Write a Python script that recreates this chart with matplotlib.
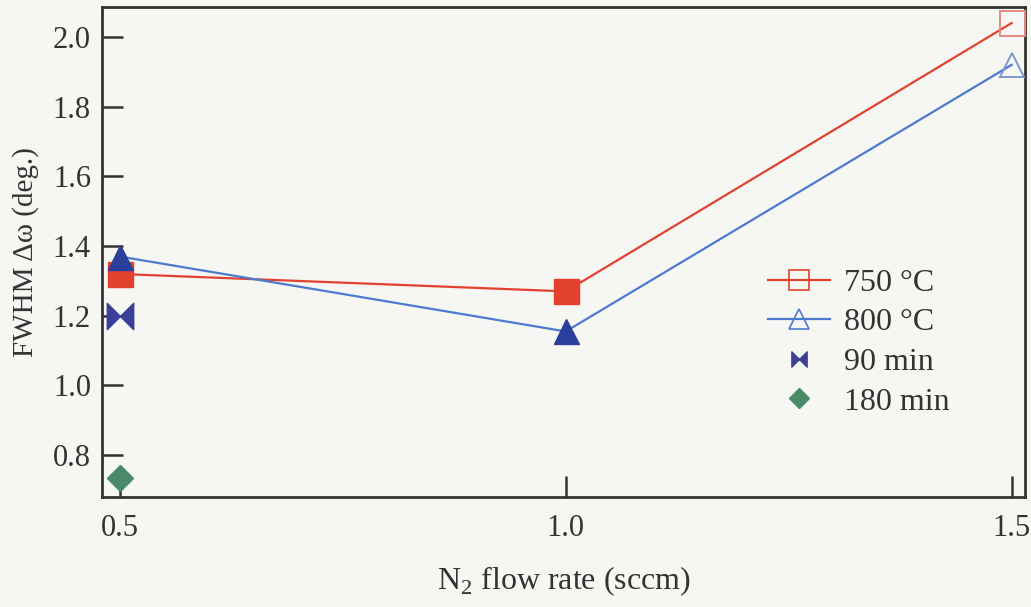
import matplotlib
matplotlib.use("Agg")
import matplotlib.pyplot as plt
from matplotlib.path import Path
from matplotlib.lines import Line2D

plt.rcParams['font.family'] = ['Liberation Serif', 'DejaVu Serif']
plt.rcParams['mathtext.fontset'] = 'custom'
plt.rcParams['mathtext.rm'] = 'Liberation Serif'

# N2 flow rate (sccm) and FWHM (deg.)
flow = [0.5, 1.0, 1.5]
fwhm_750 = [1.32, 1.27, 2.04]
fwhm_800 = [1.37, 1.155, 1.92]
flow_90 = [0.5]
fwhm_90 = [1.20]
flow_180 = [0.5]
fwhm_180 = [0.735]

xticks = [0.5, 1.0, 1.5]
yticks = [0.8, 1.0, 1.2, 1.4, 1.6, 1.8, 2.0]

red = '#e2412f'
blue_line = '#4d7ad0'
blue_fill = '#2a3e9c'
bow_col = '#3a3f98'
green = '#4b8a68'
bg = '#f6f7f3'
ink = '#333333'

# horizontal bow-tie marker
bowtie = Path([(-1, 1), (0, 0), (-1, -1), (-1, 1),
               (1, 1), (0, 0), (1, -1), (1, 1)],
              [Path.MOVETO, Path.LINETO, Path.LINETO, Path.CLOSEPOLY,
               Path.MOVETO, Path.LINETO, Path.LINETO, Path.CLOSEPOLY])

fig = plt.figure(figsize=(10.31, 6.07), dpi=100, facecolor=bg)
ax = fig.add_axes([102 / 1031, 1 - 497 / 607, 923 / 1031, 490 / 607])
ax.set_facecolor(bg)

ax.plot(flow, fwhm_750, color=red, lw=1.6, zorder=2)
ax.plot(flow, fwhm_800, color=blue_line, lw=1.6, zorder=2)

# filled markers for the first two flow rates, open for the last
ax.plot(flow[:2], fwhm_750[:2], ls='none', marker='s', ms=18,
        mfc=red, mec=red, zorder=3)
ax.plot(flow[2:], fwhm_750[2:], ls='none', marker='s', ms=18,
        mfc='none', mec='#e58a80', mew=1.4, zorder=3)
ax.plot(flow[:2], fwhm_800[:2], ls='none', marker='^', ms=18,
        mfc=blue_fill, mec=blue_fill, zorder=4)
ax.plot(flow[2:], fwhm_800[2:], ls='none', marker='^', ms=17,
        mfc='none', mec='#7d97cf', mew=1.4, zorder=3)
ax.plot(flow_90, fwhm_90, ls='none', marker=bowtie, ms=19,
        mfc=bow_col, mec=bow_col, zorder=3)
ax.plot(flow_180, fwhm_180, ls='none', marker='D', ms=13,
        mfc=green, mec=green, zorder=3)

ax.set_xlim(0.48, 1.515)
ax.set_ylim(0.68, 2.086)
ax.set_xticks(xticks)
ax.set_xticklabels([f'{v:.1f}' for v in xticks])
ax.set_yticks(yticks)
ax.set_yticklabels([f'{v:.1f}' for v in yticks])
ax.tick_params(direction='in', length=15, width=1.8, color=ink,
               labelsize=22, labelcolor=ink, pad=8)
ax.tick_params(axis='x', pad=12)
for s in ax.spines.values():
    s.set_color(ink)
    s.set_linewidth(2)

ax.set_xlabel(r'N$_2$ flow rate (sccm)', fontsize=23, color=ink,
              labelpad=16)
ax.set_ylabel('FWHM Δω (deg.)', fontsize=21, color=ink, labelpad=10)

handles = [
    Line2D([], [], color=red, lw=1.6, marker='s', ms=14, mfc='none',
           mec=red, mew=1.2),
    Line2D([], [], color=blue_line, lw=1.6, marker='^', ms=15, mfc='none',
           mec=blue_line, mew=1.2),
    Line2D([], [], ls='none', marker=bowtie, ms=11, mfc=bow_col, mec=bow_col),
    Line2D([], [], ls='none', marker='D', ms=10.5, mfc=green, mec=green),
]
ax.legend(handles, ['750 °C', '800 °C', '90 min', '180 min'],
          loc='upper left', bbox_to_anchor=(0.69, 0.525), frameon=False,
          fontsize=23, handlelength=1.95, handletextpad=0.45,
          labelspacing=0.32, labelcolor=ink)

fig.savefig('out.png', dpi=100, facecolor=bg)
